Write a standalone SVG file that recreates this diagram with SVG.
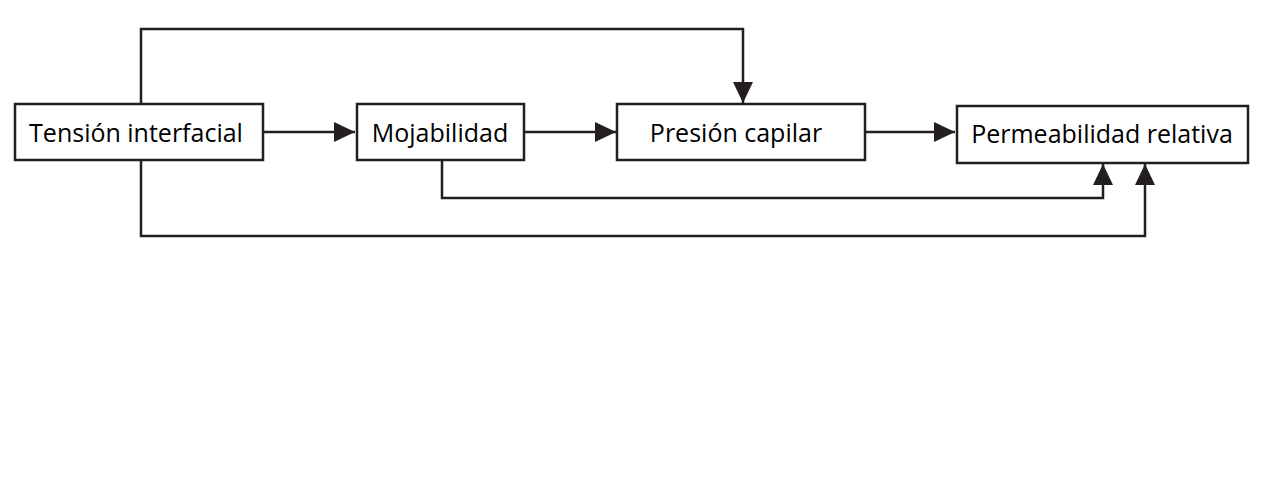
<svg xmlns="http://www.w3.org/2000/svg" width="1265" height="502" viewBox="0 0 1265 502">
<style>
.box{fill:#fff;stroke:#231f20;stroke-width:2.5}
.lbl{font-family:"Open Sans","Noto Sans","Liberation Sans",sans-serif;font-size:25px;fill:#000;text-anchor:middle}
.con{fill:none;stroke:#231f20;stroke-width:2.5}
</style>
<defs>
<marker id="arr" markerUnits="userSpaceOnUse" markerWidth="22" markerHeight="22" refX="21" refY="10" orient="auto">
<path d="M0,0 L21,10 L0,20 Z" fill="#231f20"/>
</marker>
</defs>
<rect width="1265" height="502" fill="#fff"/>
<g id="connectors">
<path class="con" d="M263,132 H355" marker-end="url(#arr)"/>
<path class="con" d="M524,132 H616" marker-end="url(#arr)"/>
<path class="con" d="M865,132 H955" marker-end="url(#arr)"/>
<path class="con" d="M141,104 V29 H743 V103" marker-end="url(#arr)"/>
<path class="con" d="M442,161 V198 H1103 V164" marker-end="url(#arr)"/>
<path class="con" d="M141,160 V236 H1145 V164" marker-end="url(#arr)"/>
</g>
<g id="tension">
<rect class="box" x="15" y="104" width="248" height="56"/>
<text class="lbl" x="136" y="142">Tensión interfacial</text>
</g>
<g id="mojabilidad">
<rect class="box" x="357" y="104" width="167" height="56"/>
<text class="lbl" x="440" y="142">Mojabilidad</text>
</g>
<g id="presion">
<rect class="box" x="617" y="104" width="248" height="56"/>
<text class="lbl" x="736" y="142">Presión capilar</text>
</g>
<g id="permeabilidad">
<rect class="box" x="957" y="106" width="291" height="57"/>
<text class="lbl" x="1102" y="143">Permeabilidad relativa</text>
</g>
</svg>
